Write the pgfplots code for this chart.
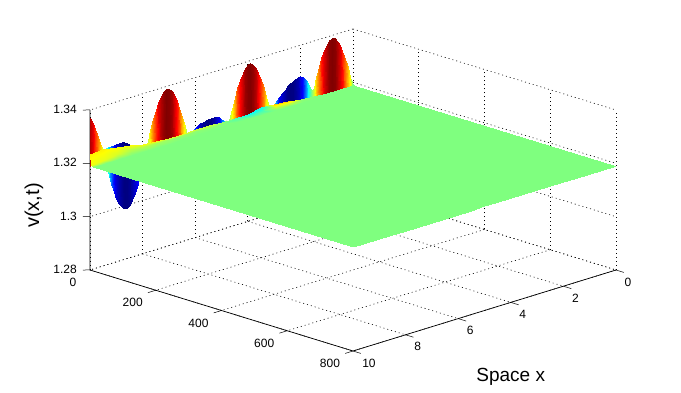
\documentclass[border=0pt]{standalone}
\usepackage{pgfplots}
\usepackage{pgfplotstable}
\usepackage{fontspec}
\setmainfont{Liberation Sans}
\pgfplotsset{compat=1.18}
\pgfplotstableread{
x y z m
0.0 0 1.31900 1.31842
0.1 0 1.32240 1.32240
0.2 0 1.32625 1.32625
0.3 0 1.32981 1.32981
0.4 0 1.33293 1.33293
0.5 0 1.33551 1.33551
0.6 0 1.33742 1.33742
0.7 0 1.33860 1.33860
0.8 0 1.33900 1.33900
0.9 0 1.33860 1.33860
1.0 0 1.33742 1.33742
1.1 0 1.33551 1.33551
1.2 0 1.33293 1.33293
1.3 0 1.32981 1.32981
1.4 0 1.32625 1.32625
1.5 0 1.32240 1.32240
1.6 0 1.32200 1.31842
1.7 0 1.32500 1.31446
1.8 0 1.32650 1.31068
1.9 0 1.32762 1.30723
2.0 0 1.32837 1.30425
2.1 0 1.32837 1.30186
2.2 0 1.32800 1.30016
2.3 0 1.32762 1.29920
2.4 0 1.32687 1.29903
2.5 0 1.32612 1.29966
2.6 0 1.32500 1.30106
2.7 0 1.32425 1.30318
2.8 0 1.32312 1.30593
2.9 0 1.32200 1.30919
3.0 0 1.32087 1.31285
3.1 0 1.31975 1.31676
3.2 0 1.32075 1.32075
3.3 0 1.32467 1.32467
3.4 0 1.32837 1.32837
3.5 0 1.33169 1.33169
3.6 0 1.33451 1.33451
3.7 0 1.33671 1.33671
3.8 0 1.33820 1.33820
3.9 0 1.33893 1.33893
4.0 0 1.33886 1.33886
4.1 0 1.33800 1.33800
4.2 0 1.33639 1.33639
4.3 0 1.33408 1.33408
4.4 0 1.33117 1.33117
4.5 0 1.32777 1.32777
4.6 0 1.32403 1.32403
4.7 0 1.32008 1.32008
4.8 0 1.31975 1.31609
4.9 0 1.32050 1.31222
5.0 0 1.32162 1.30861
5.1 0 1.32237 1.30540
5.2 0 1.32275 1.30278
5.3 0 1.32312 1.30078
5.4 0 1.32312 1.29950
5.5 0 1.32312 1.29900
5.6 0 1.32275 1.29931
5.7 0 1.32256 1.30039
5.8 0 1.32237 1.30222
5.9 0 1.32200 1.30471
6.0 0 1.32125 1.30778
6.1 0 1.32050 1.31129
6.2 0 1.31975 1.31511
6.3 0 1.31909 1.31909
6.4 0 1.32306 1.32306
6.5 0 1.32687 1.32687
6.6 0 1.33037 1.33037
6.7 0 1.33341 1.33341
6.8 0 1.33588 1.33588
6.9 0 1.33767 1.33767
7.0 0 1.33872 1.33872
7.1 0 1.33898 1.33898
7.2 0 1.33844 1.33844
7.3 0 1.33715 1.33715
7.4 0 1.33512 1.33512
7.5 0 1.33244 1.33244
7.6 0 1.32922 1.32922
7.7 0 1.32561 1.32561
7.8 0 1.32173 1.32173
7.9 0 1.31937 1.31774
8.0 0 1.31975 1.31380
8.1 0 1.32012 1.31006
8.2 0 1.32050 1.30668
8.3 0 1.32125 1.30381
8.4 0 1.32200 1.30153
8.5 0 1.32275 1.29995
8.6 0 1.32350 1.29912
8.7 0 1.32406 1.29906
8.8 0 1.32425 1.29985
8.9 0 1.32425 1.30137
9.0 0 1.32425 1.30360
9.1 0 1.32425 1.30644
9.2 0 1.32425 1.30978
9.3 0 1.32406 1.31350
9.4 0 1.32387 1.31743
9.5 0 1.32387 1.32143
9.6 0 1.32532 1.32532
9.7 0 1.32896 1.32896
9.8 0 1.33221 1.33221
9.9 0 1.33493 1.33493
10.0 0 1.33702 1.33702
0.0 0.5 1.31842 1.31842
0.1 0.5 1.31900 1.32240
0.2 0.5 1.31900 1.32625
0.3 0.5 1.31900 1.32981
0.4 0.5 1.31900 1.33293
0.5 0.5 1.31900 1.33551
0.6 0.5 1.31900 1.33742
0.7 0.5 1.31900 1.33860
0.8 0.5 1.31900 1.33900
0.9 0.5 1.31900 1.33860
1.0 0.5 1.31900 1.33742
1.1 0.5 1.31900 1.33551
1.2 0.5 1.31900 1.33293
1.3 0.5 1.31900 1.32981
1.4 0.5 1.31900 1.32625
1.5 0.5 1.31900 1.32240
1.6 0.5 1.31842 1.31842
1.7 0.5 1.31446 1.31446
1.8 0.5 1.31068 1.31068
1.9 0.5 1.30723 1.30723
2.0 0.5 1.30425 1.30425
2.1 0.5 1.30186 1.30186
2.2 0.5 1.30016 1.30016
2.3 0.5 1.29920 1.29920
2.4 0.5 1.29903 1.29903
2.5 0.5 1.29966 1.29966
2.6 0.5 1.30106 1.30106
2.7 0.5 1.30318 1.30318
2.8 0.5 1.30593 1.30593
2.9 0.5 1.30919 1.30919
3.0 0.5 1.31285 1.31285
3.1 0.5 1.31676 1.31676
3.2 0.5 1.31900 1.32075
3.3 0.5 1.31900 1.32467
3.4 0.5 1.31900 1.32837
3.5 0.5 1.31900 1.33169
3.6 0.5 1.31900 1.33451
3.7 0.5 1.31900 1.33671
3.8 0.5 1.31900 1.33820
3.9 0.5 1.31900 1.33893
4.0 0.5 1.31900 1.33886
4.1 0.5 1.31900 1.33800
4.2 0.5 1.31900 1.33639
4.3 0.5 1.31900 1.33408
4.4 0.5 1.31900 1.33117
4.5 0.5 1.31900 1.32777
4.6 0.5 1.31900 1.32403
4.7 0.5 1.31900 1.32008
4.8 0.5 1.31609 1.31609
4.9 0.5 1.31222 1.31222
5.0 0.5 1.30861 1.30861
5.1 0.5 1.30540 1.30540
5.2 0.5 1.30278 1.30278
5.3 0.5 1.30078 1.30078
5.4 0.5 1.29950 1.29950
5.5 0.5 1.29900 1.29900
5.6 0.5 1.29931 1.29931
5.7 0.5 1.30039 1.30039
5.8 0.5 1.30222 1.30222
5.9 0.5 1.30471 1.30471
6.0 0.5 1.30778 1.30778
6.1 0.5 1.31129 1.31129
6.2 0.5 1.31511 1.31511
6.3 0.5 1.31900 1.31909
6.4 0.5 1.31900 1.32306
6.5 0.5 1.31900 1.32687
6.6 0.5 1.31900 1.33037
6.7 0.5 1.31900 1.33341
6.8 0.5 1.31900 1.33588
6.9 0.5 1.31900 1.33767
7.0 0.5 1.31900 1.33872
7.1 0.5 1.31900 1.33898
7.2 0.5 1.31900 1.33844
7.3 0.5 1.31900 1.33715
7.4 0.5 1.31900 1.33512
7.5 0.5 1.31900 1.33244
7.6 0.5 1.31900 1.32922
7.7 0.5 1.31900 1.32561
7.8 0.5 1.31900 1.32173
7.9 0.5 1.31774 1.31774
8.0 0.5 1.31380 1.31380
8.1 0.5 1.31006 1.31006
8.2 0.5 1.30668 1.30668
8.3 0.5 1.30381 1.30381
8.4 0.5 1.30153 1.30153
8.5 0.5 1.29995 1.29995
8.6 0.5 1.29912 1.29912
8.7 0.5 1.29906 1.29906
8.8 0.5 1.29985 1.29985
8.9 0.5 1.30137 1.30137
9.0 0.5 1.30360 1.30360
9.1 0.5 1.30644 1.30644
9.2 0.5 1.30978 1.30978
9.3 0.5 1.31350 1.31350
9.4 0.5 1.31743 1.31743
9.5 0.5 1.31900 1.32143
9.6 0.5 1.31900 1.32532
9.7 0.5 1.31900 1.32896
9.8 0.5 1.31900 1.33221
9.9 0.5 1.31900 1.33493
10.0 0.5 1.31900 1.33702
}\walltable
\pgfplotstableread{
x y z m
0.0 1 1.31900 1.31900
0.5 1 1.31919 1.31900
1.0 1 1.31919 1.31900
1.5 1 1.31956 1.31950
2.0 1 1.31975 1.32050
2.5 1 1.32050 1.32600
3.0 1 1.32087 1.32650
3.5 1 1.32125 1.31450
4.0 1 1.32031 1.31400
4.5 1 1.32050 1.31650
5.0 1 1.32050 1.32050
5.5 1 1.32069 1.32200
6.0 1 1.32069 1.32250
6.5 1 1.32050 1.32300
7.0 1 1.32050 1.32350
7.5 1 1.32069 1.32350
8.0 1 1.32125 1.32400
8.5 1 1.32237 1.32400
9.0 1 1.32331 1.32400
9.5 1 1.32387 1.32450
10.0 1 1.32350 1.32450
0.0 2 1.31900 1.31900
0.5 2 1.31900 1.31900
1.0 2 1.31900 1.31900
1.5 2 1.31937 1.31900
2.0 2 1.31937 1.31950
2.5 2 1.31956 1.32150
3.0 2 1.31975 1.32200
3.5 2 1.32012 1.31700
4.0 2 1.31956 1.31650
4.5 2 1.31994 1.31750
5.0 2 1.31956 1.31920
5.5 2 1.31975 1.31950
6.0 2 1.31994 1.31950
6.5 2 1.31994 1.32000
7.0 2 1.31994 1.32000
7.5 2 1.32012 1.32050
8.0 2 1.32031 1.32100
8.5 2 1.32087 1.32150
9.0 2 1.32050 1.32250
9.5 2 1.31994 1.32300
10.0 2 1.31937 1.32350
0.0 8 1.31900 1.31900
0.5 8 1.31900 1.31900
1.0 8 1.31900 1.31900
1.5 8 1.31900 1.31900
2.0 8 1.31900 1.31900
2.5 8 1.31900 1.31900
3.0 8 1.31900 1.31900
3.5 8 1.31900 1.31900
4.0 8 1.31900 1.31900
4.5 8 1.31900 1.31900
5.0 8 1.31900 1.31900
5.5 8 1.31900 1.31900
6.0 8 1.31900 1.31900
6.5 8 1.31900 1.31900
7.0 8 1.31900 1.31900
7.5 8 1.31900 1.31900
8.0 8 1.31900 1.31900
8.5 8 1.31900 1.31900
9.0 8 1.31900 1.31900
9.5 8 1.31900 1.31900
10.0 8 1.31900 1.31900
0.0 800 1.31900 1.31900
0.5 800 1.31900 1.31900
1.0 800 1.31900 1.31900
1.5 800 1.31900 1.31900
2.0 800 1.31900 1.31900
2.5 800 1.31900 1.31900
3.0 800 1.31900 1.31900
3.5 800 1.31900 1.31900
4.0 800 1.31900 1.31900
4.5 800 1.31900 1.31900
5.0 800 1.31900 1.31900
5.5 800 1.31900 1.31900
6.0 800 1.31900 1.31900
6.5 800 1.31900 1.31900
7.0 800 1.31900 1.31900
7.5 800 1.31900 1.31900
8.0 800 1.31900 1.31900
8.5 800 1.31900 1.31900
9.0 800 1.31900 1.31900
9.5 800 1.31900 1.31900
10.0 800 1.31900 1.31900
}\planetable
\begin{document}
\begin{tikzpicture}
\path[use as bounding box] (0,0) rectangle (681pt,393pt);
\begin{axis}[
  at={(90pt,42pt)},anchor=south west,
  x={(-26.3pt,-8.1pt)},y={(0.32875pt,-0.10125pt)},z={(0pt,2666.67pt)},
  xmin=0,xmax=10,ymin=0,ymax=800,zmin=1.28,zmax=1.34,
  xtick={0,2,4,6,8,10},ytick={0,200,400,600,800},ztick={1.28,1.3,1.32,1.34},
  xticklabels={0,2,4,6,8,\hspace*{8pt}10},
  yticklabels={\hspace*{12pt}0,200,400,600,800},
  zticklabels={1.28,1.3,1.32,1.34},
  /pgf/number format/assume math mode=true,
  ticklabel style={font=\fontsize{12}{14}\selectfont},
  xticklabel style={anchor=center,xshift=12pt,yshift=-12pt},
  yticklabel style={anchor=center,xshift=-23pt,yshift=-12.5pt},
  zticklabel style={anchor=east,xshift=-9.7pt,yshift=0.5pt},
  grid=major,
  grid style={black,line width=0.6pt,dash pattern=on 1pt off 3pt},
  axis line style={draw=none},
  tick style={draw=none},
  tick align=outside,
  major tick length=0pt,
  colormap={myjet}{rgb255(0cm)=(0,0,128) rgb255(1.5cm)=(0,0,255) rgb255(3cm)=(0,255,255) rgb255(5cm)=(255,255,0) rgb255(7cm)=(255,0,0) rgb255(8cm)=(128,0,0)},
  point meta min=1.299,point meta max=1.339,
  clip=false,
  xlabel={Space x},
  xlabel style={at={(axis cs:8.577,1166,1.28)},anchor=center,font=\fontsize{19}{22}\selectfont},
  zlabel={v(x,t)},
  zlabel style={at={(axis cs:11.065,-85,1.30418)},anchor=center,rotate=0,font=\fontsize{20}{22}\selectfont},
]
\addplot3[black,line width=0.7pt,no marks] coordinates {(10,0,1.34) (10,0,1.28) (10,800,1.28) (0,800,1.28)};
\addplot3[black,line width=0.5pt,no marks] coordinates {(10,0,1.28) (10.135,-10.66,1.28)};
\addplot3[black,line width=0.5pt,no marks] coordinates {(10,0,1.30) (10.135,-10.66,1.30)};
\addplot3[black,line width=0.5pt,no marks] coordinates {(10,0,1.32) (10.135,-10.66,1.32)};
\addplot3[black,line width=0.5pt,no marks] coordinates {(10,0,1.34) (10.135,-10.66,1.34)};
\addplot3[black,line width=0.5pt,no marks] coordinates {(10,200,1.28) (10.3,200,1.28)};
\addplot3[black,line width=0.5pt,no marks] coordinates {(10,400,1.28) (10.3,400,1.28)};
\addplot3[black,line width=0.5pt,no marks] coordinates {(10,600,1.28) (10.3,600,1.28)};
\addplot3[black,line width=0.5pt,no marks] coordinates {(10,800,1.28) (10.3,800,1.28)};
\addplot3[black,line width=0.5pt,no marks] coordinates {(10,800,1.28) (10,824,1.28)};
\addplot3[black,line width=0.5pt,no marks] coordinates {(8,800,1.28) (8,824,1.28)};
\addplot3[black,line width=0.5pt,no marks] coordinates {(6,800,1.28) (6,824,1.28)};
\addplot3[black,line width=0.5pt,no marks] coordinates {(4,800,1.28) (4,824,1.28)};
\addplot3[black,line width=0.5pt,no marks] coordinates {(2,800,1.28) (2,824,1.28)};
\addplot3[black,line width=0.5pt,no marks] coordinates {(0,800,1.28) (0,824,1.28)};
\addplot3[surf,shader=interp,mesh/cols=101,point meta=\thisrow{m}] table[x=x,y=y,z=z] {\walltable};
\addplot3[surf,shader=interp,mesh/cols=21,point meta=\thisrow{m}] table[x=x,y=y,z=z] {\planetable};
\end{axis}
\end{tikzpicture}
\end{document}
